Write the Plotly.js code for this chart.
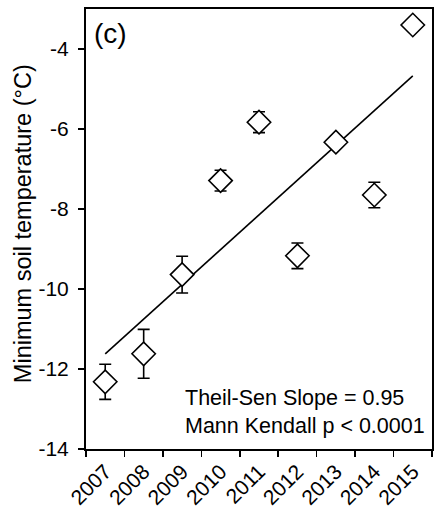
<!DOCTYPE html>
<html>
<head>
<meta charset="utf-8">
<script src="https://cdn.plot.ly/plotly-3.0.1.min.js"></script>
<style>html,body{margin:0;padding:0;background:#fff;}#chart{width:437px;height:511px;}</style>
</head>
<body>
<div id="chart"></div>
<script>
const years = ["2007","2008","2009","2010","2011","2012","2013","2014","2015"];
const minTemp = [-12.32, -11.62, -9.64, -7.29, -5.83, -9.17, -6.33, -7.65, -3.4];
const tempErr = [0.44, 0.61, 0.46, 0.26, 0.26, 0.32, 0.15, 0.32, 0.1];
const trendYears = ["2007", "2015"];
const trendValues = [-11.62, -4.67];
const statLines = ["Theil-Sen Slope = 0.95", "Mann Kendall p < 0.0001"];
const panelLabel = "(c)";
const yTitle = "Minimum soil temperature (°C)";

const font = "Liberation Sans, Arial, sans-serif";

const traces = [
  {
    x: trendYears, y: trendValues, type: "scatter", mode: "lines",
    line: {color: "#000", width: 1.6}, hoverinfo: "skip", showlegend: false
  },
  {
    x: years, y: minTemp, type: "scatter", mode: "markers",
    marker: {symbol: "diamond", size: 18, color: "#fff", line: {width: 1.6, color: "#000"}},
    error_y: {type: "data", array: tempErr, visible: true, color: "#000", thickness: 1.6, width: 6},
    showlegend: false
  }
];

const layout = {
  width: 437, height: 511,
  margin: {l: 86, r: 5, t: 9, b: 62},
  paper_bgcolor: "#fff", plot_bgcolor: "#fff",
  font: {family: font, color: "#000", size: 21},
  showlegend: false,
  xaxis: {
    type: "category", categoryorder: "array", categoryarray: years,
    range: [-0.5, 8.5], tickson: "boundaries",
    ticks: "outside", ticklen: 6, tickwidth: 1.6, tickcolor: "#000",
    tickangle: -45, tickfont: {size: 21, family: font},
    showline: true, linecolor: "#000", linewidth: 2, mirror: true,
    showgrid: false, zeroline: false, automargin: false
  },
  yaxis: {
    range: [-14, -3], tickvals: [-14, -12, -10, -8, -6, -4],
    ticktext: ["-14", "-12", "-10", "-8", "-6", "-4"],
    ticks: "outside", ticklen: 6, tickwidth: 1.6, tickcolor: "#000",
    tickfont: {size: 21, family: font}, ticklabelstandoff: 5,
    showline: true, linecolor: "#000", linewidth: 2, mirror: true,
    showgrid: false, zeroline: false, automargin: false
  },
  annotations: [
    {xref: "paper", yref: "paper", x: 0, y: 0.511, xanchor: "center", yanchor: "middle",
     xshift: -63, textangle: -90, text: yTitle, showarrow: false,
     font: {size: 23.5, family: font}},
    {xref: "paper", yref: "paper", x: 0.018, y: 0.985, xanchor: "left", yanchor: "top",
     text: panelLabel, showarrow: false, font: {size: 28, family: font}},
    {xref: "paper", yref: "paper", x: 0.985, y: 0.02, xanchor: "right", yanchor: "bottom",
     text: statLines[0] + "<br>" + statLines[1], align: "left", showarrow: false,
     font: {size: 21.5, family: font}}
  ]
};

Plotly.newPlot("chart", traces, layout, {displayModeBar: false, staticPlot: true});
</script>
</body>
</html>
